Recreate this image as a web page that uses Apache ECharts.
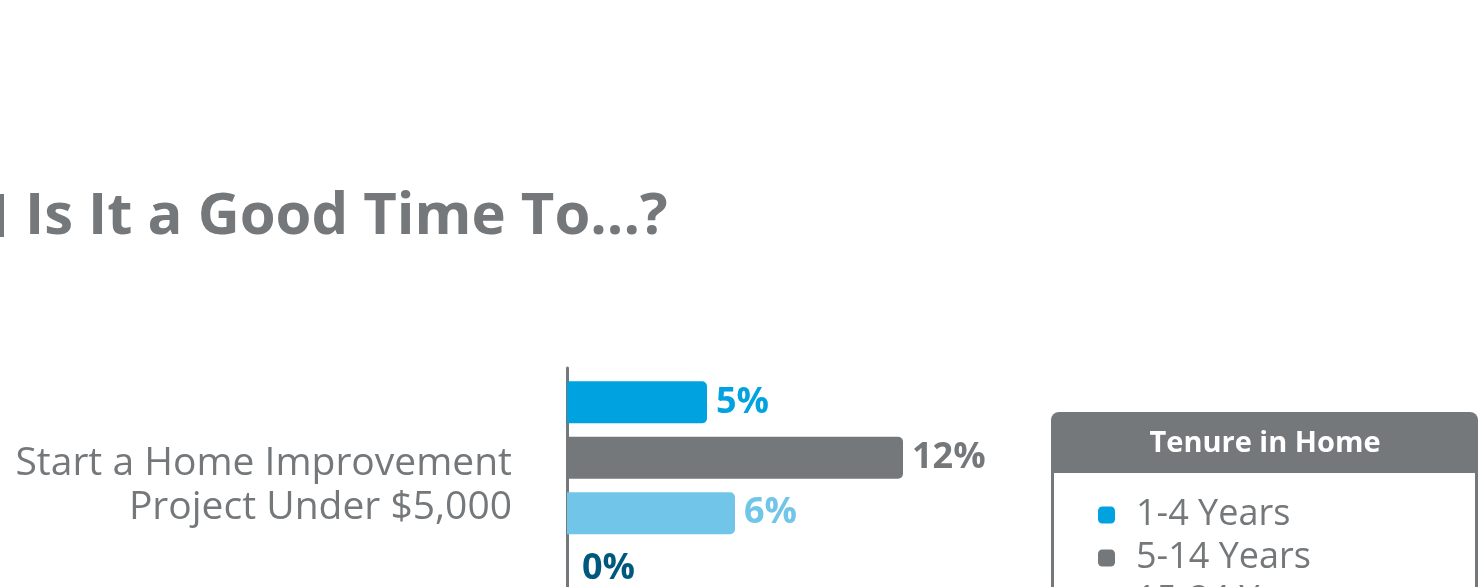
<!DOCTYPE html>
<html>
<head>
<meta charset="utf-8">
<script src="https://cdn.jsdelivr.net/npm/echarts@6/dist/echarts.min.js"></script>
<style>
  html, body { margin: 0; padding: 0; background: #fff; overflow: hidden; }
  #chart { width: 1483px; height: 900px; }
</style>
</head>
<body>
<div id="chart"></div>
<script>
// data
const categories = ['Start a Home Improvement\nProject Under $5,000']
const tenureNames = ['1-4 Years', '5-14 Years', '15-24 Years', '25+ Years']
const years1to4 = [5]
const years5to14 = [12]
const years15to24 = [6]
const years25plus = [0]

const colors = ['#00a3e0', '#75787b', '#71c5e8', '#00587c']
const grey = '#75787b'
const font = '"Open Sans", sans-serif'

function barSeries(name, data, color, dist) {
    return {
        type: 'bar',
        name: name,
        data: data,
        barWidth: 42,
        barGap: '32%',
        itemStyle: { color: color, borderRadius: [0, 5, 5, 0] },
        label: {
            show: true,
            position: 'right',
            distance: dist || 9,
            formatter: '{c}%',
            color: color,
            fontFamily: font,
            fontWeight: 'bold',
            fontSize: 36
        }
    }
}

const chart = echarts.init(document.getElementById('chart'))

chart.setOption({
    animation: false,
    title: {
        text: 'Is It a Good Time To...?',
        left: 20,
        top: 183,
        textStyle: { color: grey, fontFamily: font, fontWeight: 'bold', fontSize: 58 }
    },
    grid: { left: 567, top: 368, width: 840, height: 235 },
    xAxis: {
        type: 'value', min: 0, max: 30,
        show: false
    },
    yAxis: {
        type: 'category',
        data: categories,
        inverse: true,
        axisLine: { show: true, lineStyle: { color: grey, width: 3 } },
        axisTick: { show: false },
        axisLabel: {
            margin: 55,
            color: grey,
            fontFamily: font,
            fontSize: 39,
            lineHeight: 44,
            align: 'right'
        }
    },
    legend: {
        orient: 'vertical',
        left: 1093,
        top: 492,
        height: 400,
        icon: 'roundRect',
        itemWidth: 17,
        itemHeight: 17,
        itemGap: 7,
        data: tenureNames,
        textStyle: { color: grey, fontFamily: font, fontSize: 36, lineHeight: 36, padding: [0, 0, 0, 16] }
    },
    graphic: [
        // partial glyph cut at the left edge
        { type: 'rect', shape: { x: 0, y: 194, width: 4, height: 43 }, style: { fill: grey } },
        // legend box
        { type: 'rect', z: -1, shape: { x: 1052.5, y: 470, width: 424, height: 220 }, style: { fill: '#fff', stroke: grey, lineWidth: 3 } },
        { type: 'rect', shape: { x: 1051, y: 412, width: 427, height: 61, r: [8, 8, 0, 0] }, style: { fill: grey } },
        { type: 'text', x: 1265, y: 444, style: { text: 'Tenure in Home', fill: '#fff', font: 'bold 29px "Open Sans", sans-serif', align: 'center', verticalAlign: 'middle' } }
    ],
    series: [
        barSeries(tenureNames[0], years1to4, colors[0]),
        barSeries(tenureNames[1], years5to14, colors[1]),
        barSeries(tenureNames[2], years15to24, colors[2]),
        barSeries(tenureNames[3], years25plus, colors[3], 15)
    ]
})
</script>
</body>
</html>
